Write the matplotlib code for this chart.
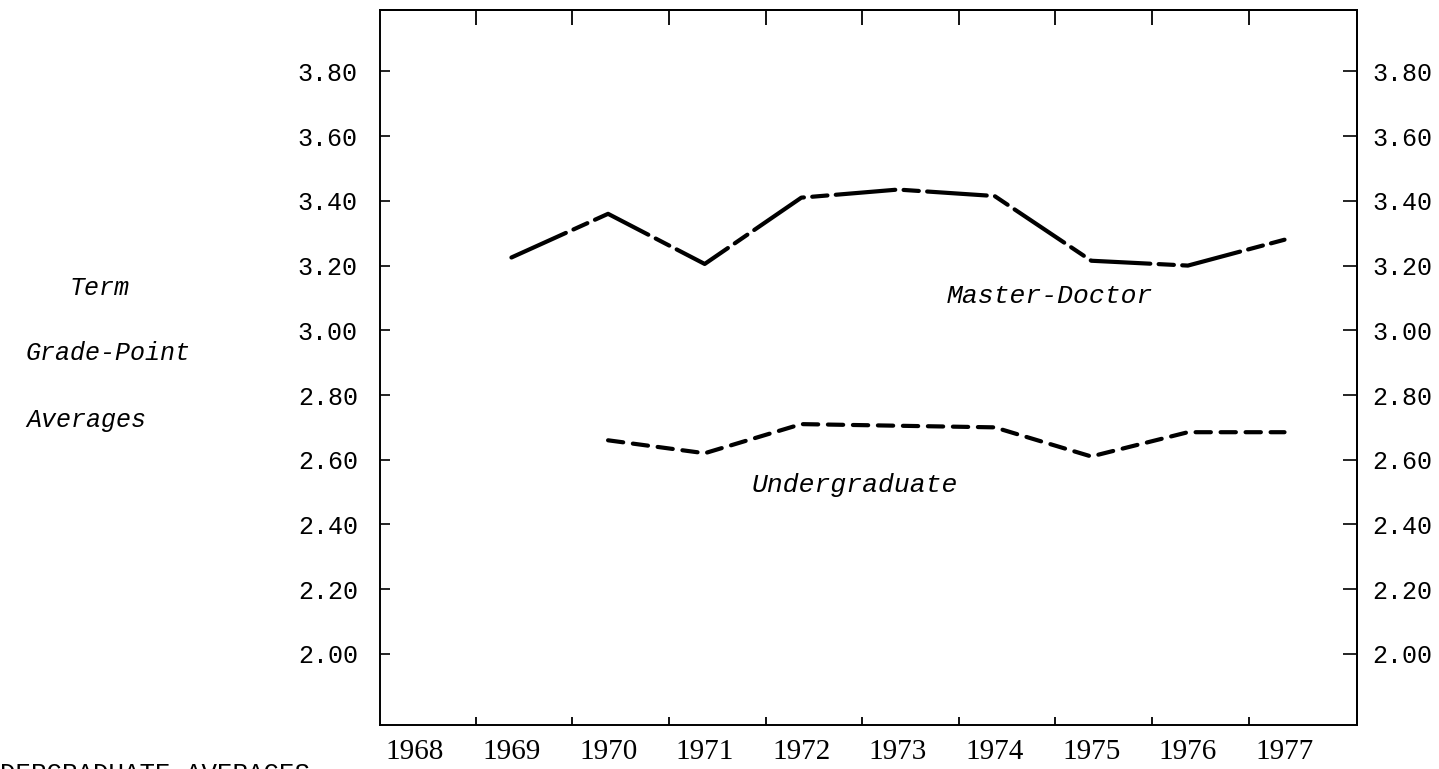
import matplotlib.pyplot as plt
import numpy as np

W, H = 1439, 769

years = [1968, 1969, 1970, 1971, 1972, 1973, 1974, 1975, 1976, 1977]
year_labels = [str(y) for y in years]

md_years = [1969, 1970, 1971, 1972, 1973, 1974, 1975, 1976, 1977]
md_gpa = [3.225, 3.36, 3.205, 3.41, 3.435, 3.415, 3.215, 3.20, 3.28]

ug_years = [1970, 1971, 1972, 1973, 1974, 1975, 1976, 1977]
ug_gpa = [2.66, 2.62, 2.71, 2.705, 2.70, 2.61, 2.685, 2.685]

gpa_ticks = [2.00, 2.20, 2.40, 2.60, 2.80, 3.00, 3.20, 3.40, 3.60, 3.80]
gpa_labels = [f'{v:.2f}' for v in gpa_ticks]

# the typed tick marks sit between the year labels
year_marks = np.array(years[:-1]) + 0.63

MONO = 'Liberation Mono'
SERIF = 'Liberation Serif'

plt.rcParams['lines.scale_dashes'] = False


def px(x, y):
    return x / W, 1 - y / H


fig = plt.figure(figsize=(W / 100, H / 100), dpi=100)
l, b = px(380, 725)
r, t = px(1357, 10)
ax = fig.add_axes([l, b, r - l, t - b])

ax.plot(md_years, md_gpa, color='black', lw=3.0, linestyle=(0, (43, 6, 11, 6)),
        solid_capstyle='round', dash_capstyle='round')
ax.plot(ug_years, ug_gpa, color='black', lw=3.0, linestyle=(0, (11, 7)),
        dash_capstyle='round')

ax.set_xlim(1967.64, 1977.75)
ax.set_ylim(1.78, 3.99)

for s in ax.spines.values():
    s.set_linewidth(1.4)

ax.set_xticks(years, year_labels, fontfamily=SERIF, fontsize=21)
ax.tick_params(axis='x', which='major', length=0, pad=10)
ax.set_xticks(year_marks, minor=True)
ax.tick_params(axis='x', which='minor', direction='in', length=6, width=1.3)

top = ax.secondary_xaxis('top')
top.set_xticks([])
top.set_xticks(year_marks, minor=True)
top.tick_params(axis='x', which='minor', direction='in', length=11, width=1.3)
top.spines['top'].set_linewidth(1.4)

ax.set_yticks(gpa_ticks, gpa_labels, fontfamily=MONO, fontsize=18)
ax.tick_params(axis='y', direction='in', length=7, width=1.2, pad=16)

right = ax.secondary_yaxis('right')
right.set_yticks(gpa_ticks, gpa_labels, fontfamily=MONO, fontsize=18)
right.tick_params(axis='y', direction='in', length=10, width=1.2, pad=11)
right.spines['right'].set_linewidth(1.4)

ax.text(1974.57, 3.085, 'Master-Doctor', fontfamily=MONO, style='italic',
        fontsize=19, ha='center', va='baseline')
ax.text(1972.55, 2.50, 'Undergraduate', fontfamily=MONO, style='italic',
        fontsize=19, ha='center', va='baseline')

for label, cx, by in [('Term', 100, 295), ('Grade-Point', 108, 360), ('Averages', 86, 427)]:
    fig.text(*px(cx, by), label, fontfamily=MONO, style='italic', fontsize=18,
             ha='center', va='baseline')

# caption line below, cut by the page edge as in the scan
fig.text(*px(-31, 762), 'UNDERGRADUATE AVERAGES', fontfamily=MONO, fontsize=18.5,
         ha='left', va='top')

fig.savefig('out.png', dpi=100)
